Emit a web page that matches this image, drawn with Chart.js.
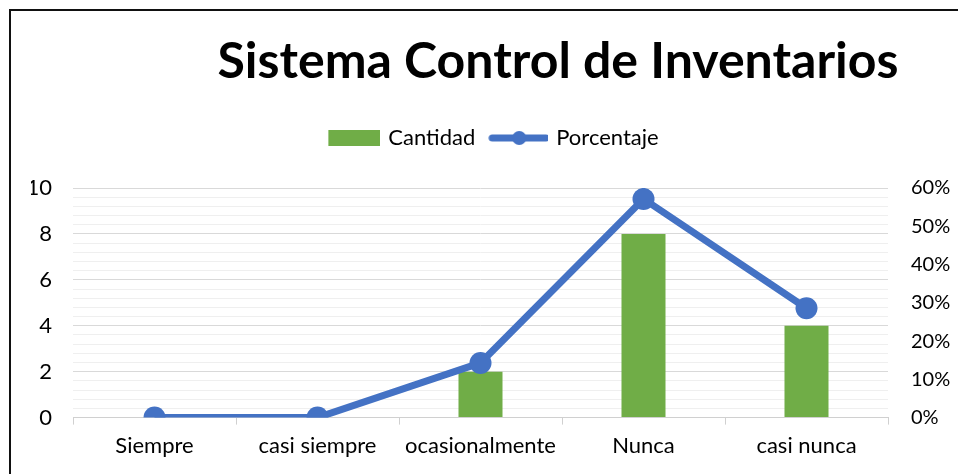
<!DOCTYPE html>
<html>
<head>
<meta charset="utf-8">
<script src="https://cdn.jsdelivr.net/npm/chart.js@4.4.0/dist/chart.umd.min.js"></script>
<style>
    html, body { margin: 0; padding: 0; background: #fff; }
    #frame {
        position: absolute; left: 9px; top: 9px; width: 960px; height: 480px;
        border-left: 2px solid #111; border-top: 2px solid #111;
    }
    #wrap { position: absolute; left: 0; top: 0; width: 958px; height: 474px; }
</style>
</head>
<body>
<div id="frame"></div>
<div id="wrap"><canvas id="chart"></canvas></div>
<script>
// Data
const categories = ['Siempre', 'casi siempre', 'ocasionalmente', 'Nunca', 'casi nunca'];
const cantidad = [0, 0, 2, 8, 4];
const porcentaje = [0, 0, 14.29, 57.14, 28.57];
const titleText = 'Sistema Control de Inventarios';

const FONT = 'Lato, "Open Sans", sans-serif';
const FS = 22;
const GREEN = '#70AD47';
const BLUE = '#4472C4';

// legend swatches drawn as small canvases
function makeSwatch(kind) {
    const c = document.createElement('canvas');
    c.width = 60; c.height = 16;
    const g = c.getContext('2d');
    if (kind === 'bar') {
        g.fillStyle = GREEN;
        g.fillRect(8, 0, 52, 16);
    } else {
        g.strokeStyle = BLUE;
        g.lineWidth = 7;
        g.lineCap = 'round';
        g.beginPath(); g.moveTo(4, 8); g.lineTo(58, 8); g.stroke();
        g.fillStyle = BLUE;
        g.beginPath(); g.arc(31, 8, 7, 0, Math.PI * 2); g.fill();
    }
    return c;
}
const swatches = [makeSwatch('bar'), makeSwatch('line')];

// title drawn by hand so it can sit right of centre like the original
const titlePlugin = {
    id: 'bigTitle',
    afterDraw(chart) {
        const ctx = chart.ctx;
        ctx.save();
        ctx.font = 'bold 50px ' + FONT;
        ctx.fillStyle = '#000';
        ctx.textAlign = 'center';
        ctx.textBaseline = 'alphabetic';
        ctx.fillText(titleText, 558, 78);
        ctx.restore();
    }
};

// extra room under the legend
const legendGap = {
    id: 'legendGap',
    beforeInit(chart) {
        const fit = chart.legend.fit;
        chart.legend.fit = function () {
            fit.bind(chart.legend)();
            this.height += 29;
        };
    }
};

const ctx = document.getElementById('chart').getContext('2d');
new Chart(ctx, {
    data: {
        labels: categories,
        datasets: [
            {
                type: 'line',
                label: 'Porcentaje',
                data: porcentaje,
                yAxisID: 'y1',
                borderColor: BLUE,
                backgroundColor: BLUE,
                borderWidth: 7,
                pointRadius: 11,
                pointHoverRadius: 11,
                pointBackgroundColor: BLUE,
                pointBorderWidth: 0,
                tension: 0,
                order: 0
            },
            {
                type: 'bar',
                label: 'Cantidad',
                data: cantidad,
                yAxisID: 'y',
                backgroundColor: GREEN,
                borderWidth: 0,
                categoryPercentage: 1,
                barPercentage: 0.27,
                order: 1
            }
        ]
    },
    options: {
        responsive: true,
        maintainAspectRatio: false,
        animation: false,
        layout: { padding: { top: 111, left: 31, right: 7, bottom: 7 } },
        plugins: {
            title: { display: false },
            tooltip: { enabled: false },
            legend: {
                display: true,
                position: 'top',
                align: 'center',
                labels: {
                    usePointStyle: true,
                    pointStyleWidth: 54,
                    padding: 16,
                    color: '#000',
                    font: { family: FONT, size: FS },
                    generateLabels(chart) {
                        // Cantidad first, then Porcentaje
                        return [1, 0].map((i, k) => ({
                            text: chart.data.datasets[i].label,
                            pointStyle: swatches[k],
                            fillStyle: 'transparent',
                            strokeStyle: 'transparent',
                            lineWidth: 0,
                            fontColor: '#000',
                            datasetIndex: i,
                            hidden: false
                        }));
                    }
                }
            }
        },
        scales: {
            x: {
                offset: true,
                grid: {
                    offset: true,
                    drawOnChartArea: false,
                    drawTicks: true,
                    tickLength: 7,
                    color: '#d0d0d0'
                },
                border: { display: true, color: '#d0d0d0', width: 1 },
                ticks: {
                    color: '#000',
                    padding: 8,
                    font: { family: FONT, size: FS },
                    maxRotation: 0
                }
            },
            y: {
                position: 'left',
                min: 0,
                max: 10,
                afterFit: s => { s.width = 42; },
                grid: {
                    drawTicks: false,
                    color: c => (Math.abs(c.tick.value % 2) < 1e-6 || Math.abs(c.tick.value % 2 - 2) < 1e-6) ? '#d9d9d9' : '#efefef',
                    lineWidth: 1
                },
                border: { display: false },
                ticks: {
                    stepSize: 0.4,
                    autoSkip: false,
                    padding: 21,
                    color: '#000',
                    font: { family: FONT, size: FS },
                    callback: v => {
                        const r = Math.round(v * 10) / 10;
                        return (Math.abs(r % 2) < 1e-6) ? String(r) : '';
                    }
                }
            },
            y1: {
                position: 'right',
                min: 0,
                max: 60,
                afterFit: s => { s.width = 63; },
                grid: { display: false, drawTicks: false },
                border: { display: false },
                ticks: {
                    stepSize: 10,
                    padding: 23,
                    color: '#000',
                    font: { family: FONT, size: 20 },
                    callback: v => v + '%'
                }
            }
        }
    },
    plugins: [titlePlugin, legendGap]
});
</script>
</body>
</html>
